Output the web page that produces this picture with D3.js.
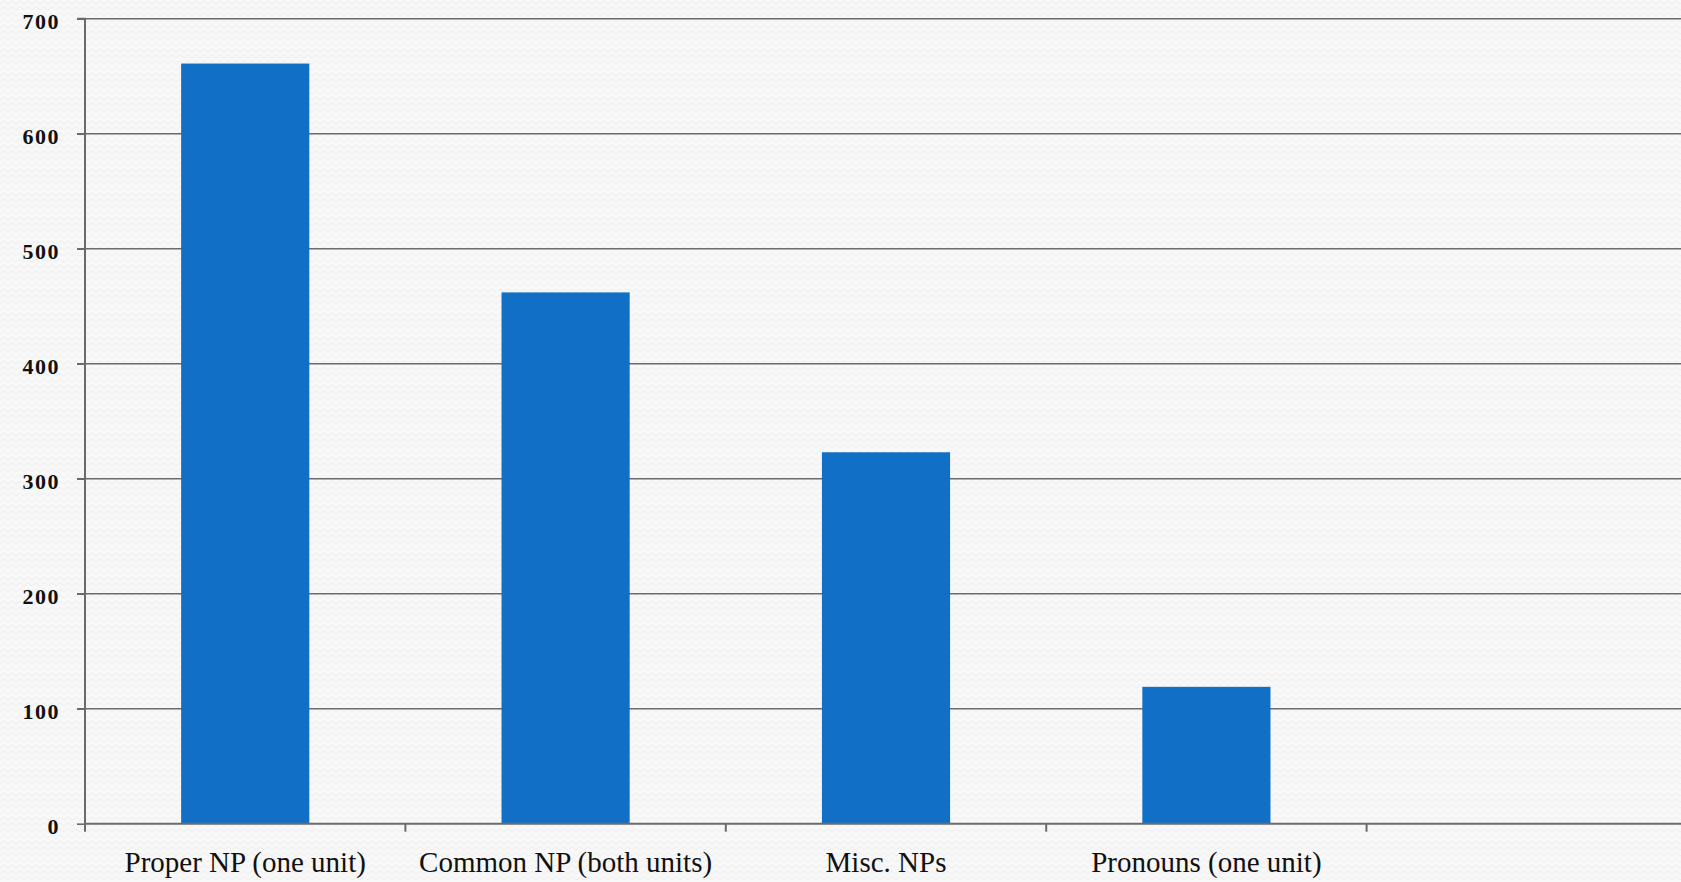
<!DOCTYPE html>
<html><head><meta charset="utf-8">
<script src="https://cdn.jsdelivr.net/npm/d3@7"></script>
<style>
html,body{margin:0;padding:0;background:#f7f7f7;overflow:hidden}
svg{display:block}
</style></head>
<body>
<svg id="chart" width="1681" height="882"></svg>
<script>
const categories = ["Proper NP (one unit)", "Common NP (both units)", "Misc. NPs", "Pronouns (one unit)", ""];
const values = [661, 462, 323, 119, null];
const yTicks = [0, 100, 200, 300, 400, 500, 600, 700];

const W = 1681, H = 882;
const m = {left: 85, top: 18.7, bottom: 882 - 823.7};
const plotW = 320.4 * categories.length;
const svg = d3.select("#chart");

const defs = svg.append("defs");
const pat = defs.append("pattern").attr("id","zz").attr("patternUnits","userSpaceOnUse")
  .attr("width",8).attr("height",6);
pat.append("rect").attr("width",8).attr("height",6).attr("fill","#f8f8f8");
pat.append("path").attr("d","M0,4 L4,1 L8,4").attr("fill","none").attr("stroke","#eeeeee").attr("stroke-width",1);
svg.append("rect").attr("width",W).attr("height",H).attr("fill","url(#zz)");

const x = d3.scaleBand().domain(d3.range(categories.length)).range([m.left, m.left + plotW]).paddingInner(0.6).paddingOuter(0.3);
const xb = d3.scaleBand().domain(d3.range(categories.length)).range([m.left, m.left + plotW]);
const y = d3.scaleLinear().domain([0, 700]).range([H - m.bottom, m.top]);

// gridlines
svg.append("g").selectAll("line").data(yTicks.filter(d => d > 0)).join("line")
  .attr("x1", m.left - 8).attr("x2", W + 10)
  .attr("y1", d => y(d)).attr("y2", d => y(d))
  .attr("stroke", "#6b6b6b").attr("stroke-width", 1.6);

// bars
svg.append("g").selectAll("rect").data(values.map((v,i)=>({v,i})).filter(d => d.v != null)).join("rect")
  .attr("x", d => x(d.i)).attr("width", x.bandwidth())
  .attr("y", d => y(d.v)).attr("height", d => y(0) - y(d.v))
  .attr("fill", "#1170c6");

// y axis
const ya = d3.axisLeft(y).tickValues(yTicks).tickSize(8).tickPadding(17);
const yg = svg.append("g").attr("transform", `translate(${m.left},0)`).call(ya);
yg.select(".domain").attr("stroke","#6b6b6b").attr("stroke-width",2).attr("d", `M-8,${y(700)}H0V${y(0)}`);
yg.selectAll(".tick line").attr("stroke","#6b6b6b").attr("stroke-width",1.6);
yg.selectAll(".tick text").attr("font-family","'Liberation Serif', serif").attr("font-size",22)
  .attr("font-weight","bold").attr("letter-spacing",1.5).attr("dy","0.45em").attr("fill","#111");

// x axis
const xa = d3.axisBottom(xb).tickFormat(i => categories[i]).tickSize(0).tickPadding(28);
const xg = svg.append("g").attr("transform", `translate(0,${y(0)})`).call(xa);
xg.select(".domain").attr("stroke","#6b6b6b").attr("stroke-width",2).attr("d", `M${m.left},0H${W+10}`);
xg.selectAll(".tick text").attr("font-family","'Liberation Serif', serif").attr("font-size",29).attr("fill","#111");
// boundary ticks
svg.append("g").selectAll("line").data(d3.range(categories.length + 1)).join("line")
  .attr("x1", i => m.left + i * xb.step()).attr("x2", i => m.left + i * xb.step())
  .attr("y1", y(0)).attr("y2", y(0) + 8)
  .attr("stroke","#6b6b6b").attr("stroke-width",2);
</script>
</body></html>
